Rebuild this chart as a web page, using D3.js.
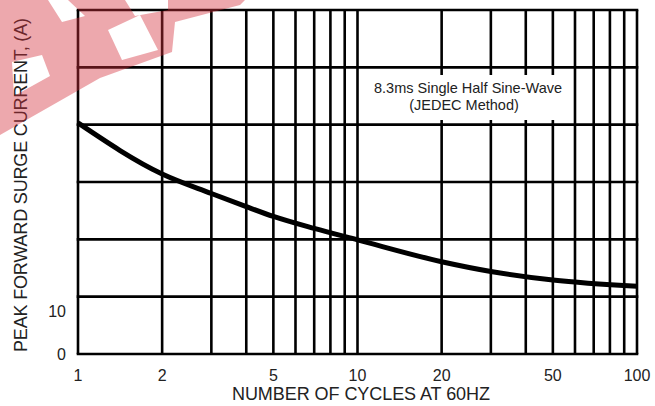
<!DOCTYPE html>
<meta charset="utf-8">
<title>surge current vs cycles</title>
<style>
body {
  margin: 0px;
  background: #fff;
}
text {
  font-family: "Liberation Sans", Arial, sans-serif;
  fill: #222;
}
</style>
<script src="https://d3js.org/d3.v7.min.js"></script>
<body>
<script>
var width = 655, height = 406;

// curve
var cycles = [1, 2, 3, 4, 5, 7, 10, 20, 30, 50, 100];
var amps = [40.3, 31.4, 28, 25.7, 24, 21.9, 19.9, 16.1, 14.4, 12.9, 11.8];

var xGrid = [1, 2, 3, 4, 5, 6, 7, 8, 9, 10, 20, 30, 40, 50, 60, 70, 80, 90, 100];
var xLabels = [1, 2, 5, 10, 20, 50, 100];
var yGrid = [0, 10, 20, 30, 40, 50, 60];
var yLabels = [0, 10];

var svg = d3.select("body").append("svg")
    .attr("width", width)
    .attr("height", height);

var x = d3.scaleLog().domain([1, 100]).range([78, 637]);
var y = d3.scaleLinear().domain([0, 60]).range([354, 10]);

var grid = svg.append("g");
grid.selectAll("line.v")
    .data(xGrid)
  .enter().append("line")
    .attr("class", "v")
    .attr("x1", function(d) { return x(d); })
    .attr("x2", function(d) { return x(d); })
    .attr("y1", y(0))
    .attr("y2", y(60))
    .style("stroke", "#000")
    .style("stroke-width", 2.6);
grid.selectAll("line.h")
    .data(yGrid)
  .enter().append("line")
    .attr("class", "h")
    .attr("x1", x(1) - 1.3)
    .attr("x2", x(100) + 1.3)
    .attr("y1", function(d) { return y(d); })
    .attr("y2", function(d) { return y(d); })
    .style("stroke", "#000")
    .style("stroke-width", 2.6);

// note box
svg.append("rect")
    .attr("x", 362).attr("y", 75)
    .attr("width", 205).attr("height", 45)
    .style("fill", "#fff");
svg.append("text")
    .attr("x", 468).attr("y", 93)
    .attr("text-anchor", "middle")
    .style("font-size", "14.5px")
    .text("8.3ms Single Half Sine-Wave");
svg.append("text")
    .attr("x", 464).attr("y", 110)
    .attr("text-anchor", "middle")
    .style("font-size", "14.5px")
    .text("(JEDEC Method)");

var line = d3.line()
    .x(function(d, i) { return x(cycles[i]); })
    .y(function(d) { return y(d); })
    .curve(d3.curveMonotoneX);

svg.append("path")
    .datum(amps)
    .attr("d", line)
    .style("fill", "none")
    .style("stroke", "#000")
    .style("stroke-width", 5);

// tick labels
svg.selectAll("text.xl")
    .data(xLabels)
  .enter().append("text")
    .attr("class", "xl")
    .attr("x", function(d) { return x(d); })
    .attr("y", 381)
    .attr("text-anchor", "middle")
    .style("font-size", "16px")
    .text(function(d) { return d; });

svg.selectAll("text.yl")
    .data(yLabels)
  .enter().append("text")
    .attr("class", "yl")
    .attr("x", 66)
    .attr("y", function(d) { return d == 0 ? y(d) + 6 : y(d) + 20; })
    .attr("text-anchor", "end")
    .style("font-size", "16px")
    .text(function(d) { return d; });

svg.append("text")
    .attr("x", 361).attr("y", 400)
    .attr("text-anchor", "middle")
    .attr("textLength", 258)
    .style("font-size", "18px")
    .text("NUMBER OF CYCLES AT 60HZ");

svg.append("text")
    .attr("transform", "translate(27,185) rotate(-90)")
    .attr("text-anchor", "middle")
    .attr("textLength", 334)
    .style("font-size", "18px")
    .text("PEAK FORWARD SURGE CURRENT, (A)");

// watermark, laid over everything
var wm = "M0,0 L245,0 L240,5 L175,22 L172,52 L100,78 L0,135 Z" +
         "M12,62 L42,55 L50,76 L14,96 Z" +
         "M48,0 L68,0 L85,16 L62,22 Z" +
         "M108,30 L140,15 L158,50 L122,60 Z" +
         "M125,0 L168,0 L168,10 L135,16 Z";
svg.append("path")
    .attr("d", wm)
    .attr("fill-rule", "evenodd")
    .style("fill", "#d4303c")
    .style("fill-opacity", 0.42);
</script>
